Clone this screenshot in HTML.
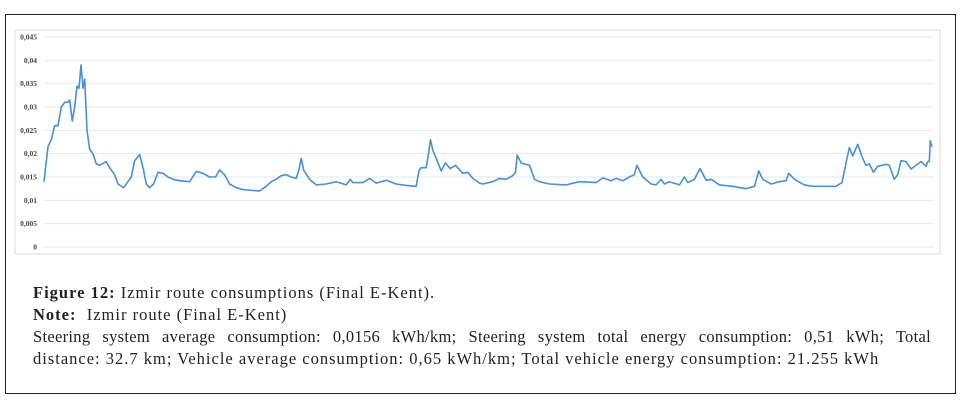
<!DOCTYPE html>
<html><head><meta charset="utf-8"><style>
html,body{margin:0;padding:0;background:#fff;width:971px;height:405px;overflow:hidden}
#frame{position:absolute;left:5px;top:14px;width:951px;height:380px;border:1.5px solid #222;box-sizing:border-box}
svg{position:absolute;left:0;top:0}
.cap{position:absolute;left:33px;width:898px;font-family:"Liberation Serif",serif;font-size:16.5px;letter-spacing:1px;color:#222;line-height:22px;text-align:justify;white-space:nowrap}
.cap b{font-weight:bold}
</style></head><body>
<div id="frame"></div>
<svg id="chart" width="971" height="270"></svg>
<div class="cap" style="top:282px"><b>Figure 12:</b> Izmir route consumptions (Final E-Kent).</div>
<div class="cap" style="top:304px"><b>Note:</b>&nbsp; Izmir route (Final E-Kent)</div>
<div class="cap" style="top:326px;white-space:normal;text-align-last:justify;letter-spacing:0.3px">Steering system average consumption: 0,0156 kWh/km; Steering system total energy consumption: 0,51 kWh; Total</div>
<div class="cap" style="top:348px">distance: 32.7 km; Vehicle average consumption: 0,65 kWh/km; Total vehicle energy consumption: 21.255 kWh</div>
<script>
const sampleIdx=[0,12,22,32,42,52,62,72,77,85,92,99,105,111,117,122,129,137,147,157,167,187,197,212,222,239,252,262,272,287,297,307,317,329,342,357,372,387,407,437,457,477,497,515,527,542,557,577,597,627,647,667,682,697,712,727,742,757,765,772,779,797,817,847,877,907,919,927,957,977,997,1027,1057,1087,1117,1125,1132,1147,1154,1160,1167,1177,1192,1205,1219,1235,1257,1272,1287,1307,
1317,1347,1367,1387,1407,1415,1420,1432,1457,1472,1487,1517,1567,1607,1657,1677,1702,1717,1737,1757,1772,1779,1797,1822,1837,1852,1862,1877,1907,1922,1932,1952,1969,1987,2002,2027,2067,2107,2132,2145,2157,2182,2207,2227,2235,2252,2282,2307,2347,2377,2395,2407,2417,2427,2442,2457,2467,2477,2489,2502,2527,2537,2552,2562,2572,2587,2602,2617,2632,2647,2652,2657,2660,2665];
const consumption=[0.014,0.0215,0.023,0.026,0.026,0.030,0.031,0.031,0.0315,0.027,0.030,0.0345,0.034,0.039,0.034,0.036,0.025,0.021,0.020,0.0178,0.0175,0.0183,0.017,0.0155,0.0135,0.0127,0.014,0.015,0.0185,0.0198,0.017,0.0135,0.0127,0.0135,0.016,0.0158,0.015,0.0145,0.0142,0.014,0.0162,0.0158,0.015,0.015,0.0165,0.0155,0.0135,0.0127,0.0123,0.0121,0.012,0.013,0.014,0.0145,0.0153,0.0155,0.015,0.0147,0.0165,0.019,0.0165,0.0145,0.0133,0.0135,0.014,0.0133,0.0145,0.0138,0.0138,0.0147,0.0137,0.0143,0.0135,0.0132,0.013,0.0163,0.017,0.017,0.020,0.023,0.0207,0.019,0.0163,0.018,0.0168,0.0175,0.0158,0.016,0.0147,0.0137,
0.0135,0.014,0.0147,0.0145,0.0153,0.016,0.0197,0.018,0.0175,0.0145,0.014,0.0135,0.0133,0.014,0.0138,0.0148,0.0142,0.0147,0.0142,0.015,0.0155,0.0175,0.015,0.0135,0.0133,0.0145,0.0135,0.014,0.0133,0.015,0.0138,0.0145,0.0168,0.0143,0.0145,0.0133,0.013,0.0125,0.013,0.0163,0.0145,0.0135,0.014,0.0142,0.0158,0.0145,0.0133,0.013,0.013,0.013,0.0138,0.018,0.0213,0.0195,0.022,0.019,0.0175,0.0178,0.016,0.0173,0.0177,0.0175,0.0145,0.0155,0.0185,0.0183,0.0167,0.0175,0.0183,0.0173,0.0183,0.0183,0.0228,0.0215];
const yTicks=[0,0.005,0.01,0.015,0.02,0.025,0.03,0.035,0.04,0.045];
const yTickLabels=["0","0,005","0,01","0,015","0,02","0,025","0,03","0,035","0,04","0,045"];
const NS="http://www.w3.org/2000/svg";
const svg=document.getElementById('chart');
const X0=44,X1=932,Y0=247,Y1=37;
const xS=v=>X0+v/2665*(X1-X0);
const yS=v=>Y0-v/0.045*(Y0-Y1);
function mk(t,a){const e=document.createElementNS(NS,t);for(const k in a)e.setAttribute(k,a[k]);svg.appendChild(e);return e;}
const box=mk('rect',{x:15,y:30,width:925,height:224,fill:'none',stroke:'#dcdcdc','stroke-width':1});


yTicks.forEach((t,i)=>{
 const g=mk('line',{x1:X0,x2:X1+1,y1:yS(t),y2:yS(t),stroke:'#e3e8ea','stroke-width':1});
 
 
 const l=mk('text',{x:37,y:yS(t)+2.5,'text-anchor':'end','font-family':'Liberation Serif,serif','font-size':'7.5','font-weight':'bold',fill:'#444'});
 l.textContent=yTickLabels[i];
 
 
});
const d=sampleIdx.map((s,i)=>(i?'L':'M')+xS(s).toFixed(1)+','+yS(consumption[i]).toFixed(1)).join('');
const p=mk('path',{d:d,fill:'none',stroke:'#4a90d4','stroke-width':1.6,'stroke-linejoin':'round'});


</script>
</body></html>
